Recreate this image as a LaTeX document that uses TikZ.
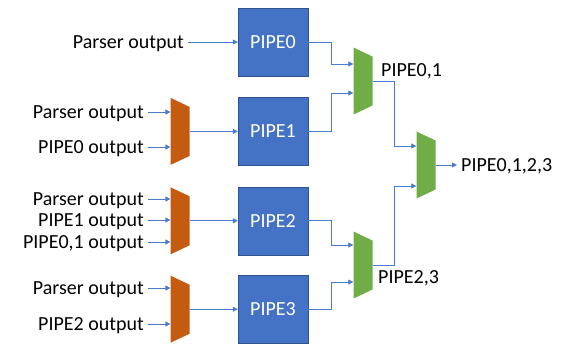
\documentclass[tikz,border=0pt]{standalone}
\usepackage{fontspec}
\setmainfont{Carlito}
\usetikzlibrary{positioning, calc, arrows.meta}
\definecolor{pipeblue}{HTML}{4472C4}
\definecolor{pipeedge}{HTML}{2F528F}
\definecolor{muxorange}{HTML}{C55A11}
\definecolor{muxgreen}{HTML}{70AD47}
\definecolor{wireblue}{HTML}{4A7BD0}

\begin{document}
\begin{tikzpicture}[
        x=1bp, y=-1bp,
        every node/.style={font=\fontsize{20bp}{24bp}\selectfont},
        pipe/.style={draw=pipeedge, fill=pipeblue, text=white, minimum width=70bp, minimum height=68bp, inner sep=0pt},
        mux/.style={fill=white, minimum width=19bp, minimum height=67bp, inner sep=0pt,
            path picture={\fill[#1] (path picture bounding box.north west) -- ([yshift=-9bp]path picture bounding box.north east)
                -- ([yshift=9bp]path picture bounding box.south east) -- (path picture bounding box.south west) -- cycle;}},
        lab/.style={inner xsep=4bp, inner ysep=0pt, text height=16bp, text depth=3bp},
        wire/.style={draw=wireblue, line width=0.8bp, -{Triangle[length=5bp, width=5bp]}}
    ]
        \useasboundingbox (0,0) rectangle (564,343);

        % Nodes
        \node[pipe] (p0) at (273,42) {PIPE0};
        \node[pipe, below=21bp of p0] (p1) {PIPE1};
        \node[pipe, below=21bp of p1] (p2) {PIPE2};
        \node[pipe, below=20bp of p2] (p3) {PIPE3};

        \node[mux=muxorange, left=48bp of p1] (m1) {};
        \node[mux=muxorange, left=48bp of p2] (m2) {};
        \node[mux=muxorange, left=48bp of p3] (m3) {};

        \node[mux=muxgreen] (g01) at (363,81) {};
        \node[mux=muxgreen] (g23) at (363,265) {};
        \node[mux=muxgreen] (g03) at (426,165) {};

        % Labels
        \node[lab, anchor=east] (in0) at (188,42) {Parser output};
        \node[lab, anchor=east] (in1a) at (148,112) {Parser output};
        \node[lab, anchor=east] (in1b) at (148,147) {PIPE0 output};
        \node[lab, anchor=east] (in2a) at (148,199) {Parser output};
        \node[lab, anchor=east] (in2b) at (148,220) {PIPE1 output};
        \node[lab, anchor=east] (in2c) at (148,242) {PIPE0,1 output};
        \node[lab, anchor=east] (in3a) at (148,288) {Parser output};
        \node[lab, anchor=east] (in3b) at (148,324) {PIPE2 output};
        \node[lab, anchor=west, inner xsep=0pt] (l01) at (381,70) {PIPE0,1};
        \node[lab, anchor=west, inner xsep=0pt] (l23) at (378,277) {PIPE2,3};
        \node[lab, anchor=west] (out) at (457,165) {PIPE0,1,2,3};

        % Arrows
        \draw[wire] (in0.east) -- (p0.west);
        \draw[wire] (in1a.east) -- (in1a.east -| m1.west);
        \draw[wire] (in1b.east) -- (in1b.east -| m1.west);
        \draw[wire] (in2a.east) -- (in2a.east -| m2.west);
        \draw[wire] (in2b.east) -- (in2b.east -| m2.west);
        \draw[wire] (in2c.east) -- (in2c.east -| m2.west);
        \draw[wire] (in3a.east) -- (in3a.east -| m3.west);
        \draw[wire] (in3b.east) -- (in3b.east -| m3.west);
        \draw[wire] (m1.east) -- (p1.west);
        \draw[wire] (m2.east) -- (p2.west);
        \draw[wire] (m3.east) -- (p3.west);

        % Merge tree
        \draw[wire] (p0.east) -- ++(23,0) |- ([yshift=17bp]g01.west);
        \draw[wire] (p1.east) -- ++(23,0) |- ([yshift=-12bp]g01.west);
        \draw[wire] (p2.east) -- ++(23,0) |- ([yshift=20bp]g23.west);
        \draw[wire] (p3.east) -- ++(23,0) |- ([yshift=-17bp]g23.west);
        \draw[wire] (g01.east) -- ++(22,0) |- ([yshift=19bp]g03.west);
        \draw[wire] (g23.east) -- ++(22,0) |- ([yshift=-21bp]g03.west);
        \draw[wire] (g03.east) -- (out.west);
    \end{tikzpicture}
\end{document}
